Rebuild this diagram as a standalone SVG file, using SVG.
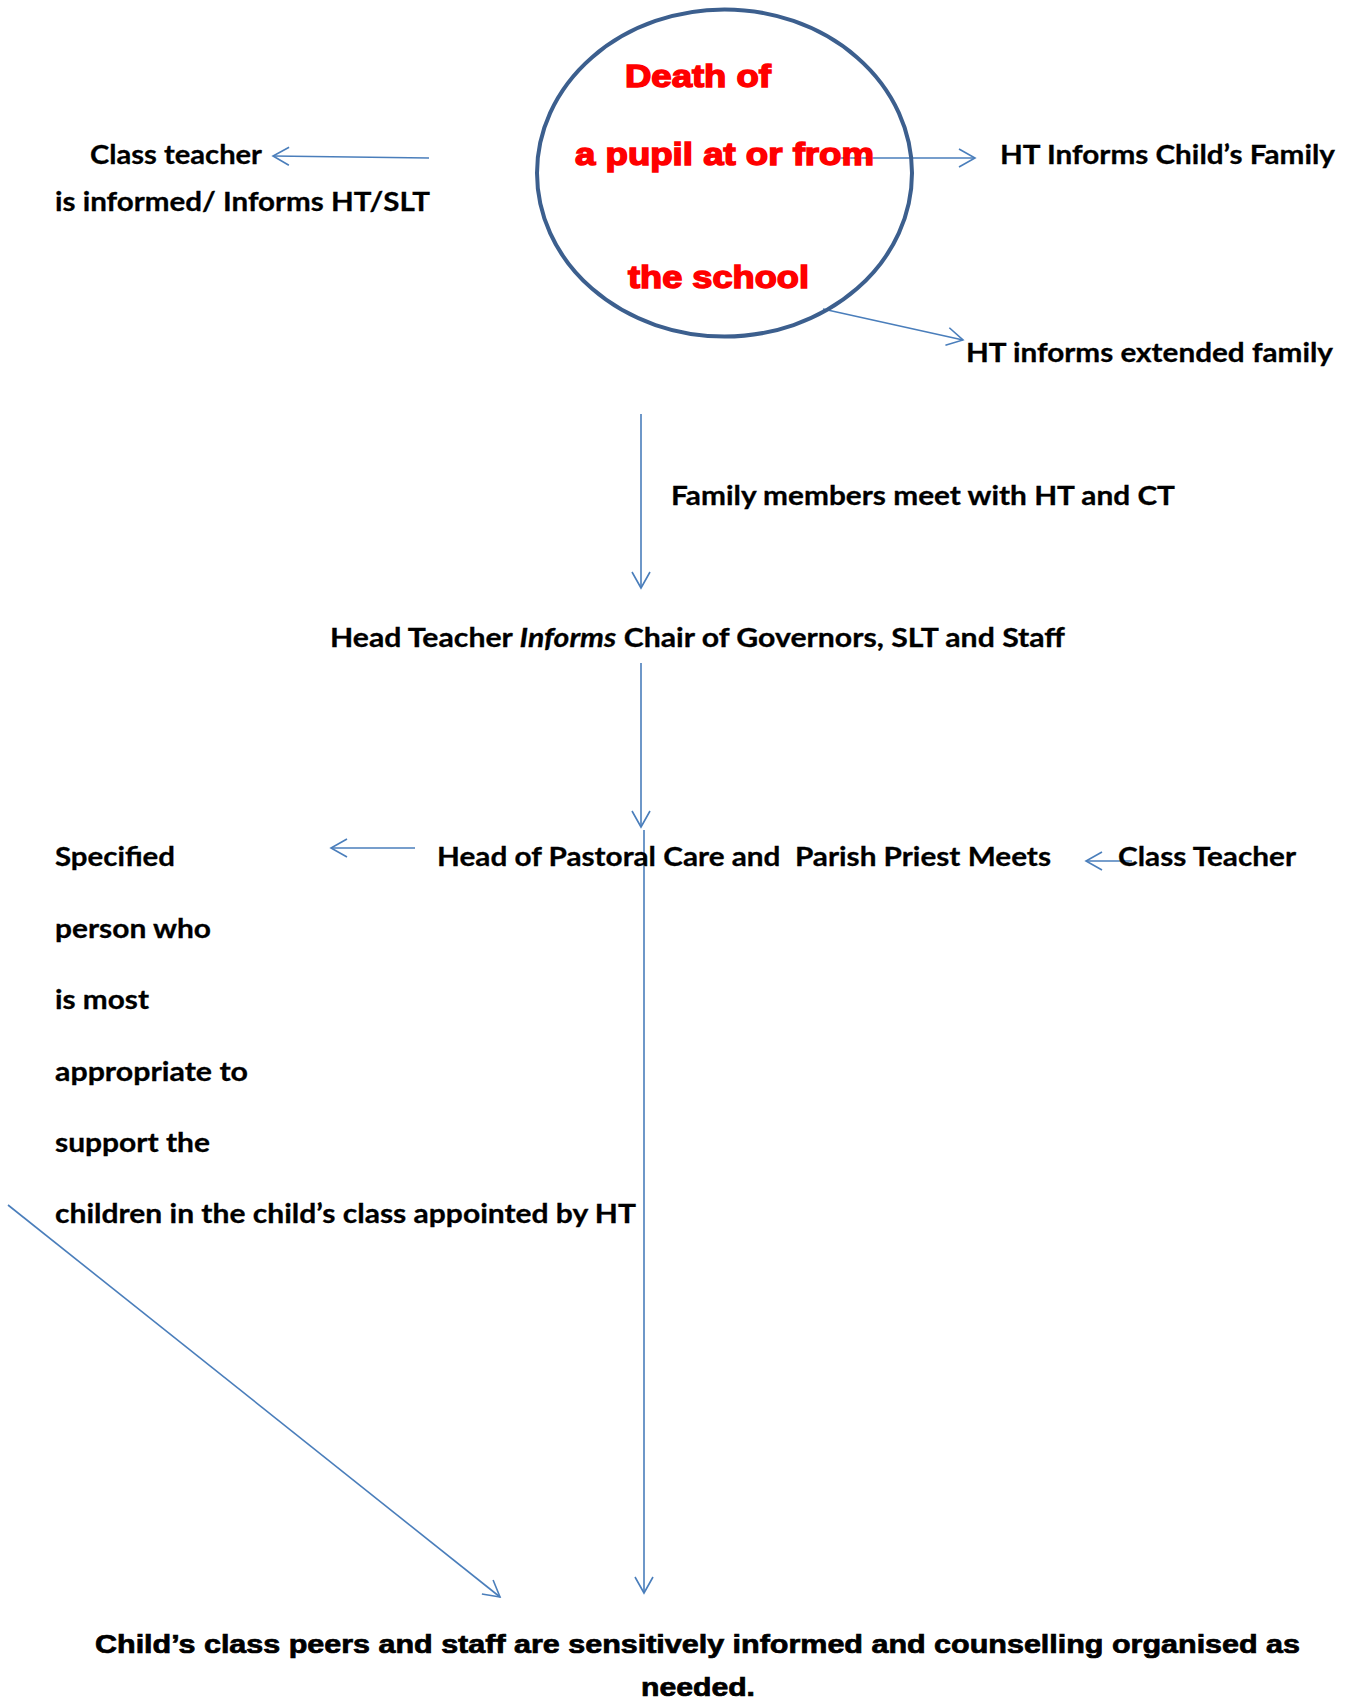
<svg xmlns="http://www.w3.org/2000/svg" width="1349" height="1699" viewBox="0 0 1349 1699">
<defs>
<style>
.t{font-family:Lato,"Open Sans","Liberation Sans",sans-serif;font-weight:bold;font-size:27px;fill:#000;stroke:#000;stroke-width:0.3}
.r{font-family:"Liberation Sans",Arial,sans-serif;font-weight:bold;font-size:32px;fill:#ff0000;stroke:#ff0000;stroke-width:1.5}
.b{font-family:"Liberation Sans",Arial,sans-serif;font-weight:bold;font-size:25px;fill:#000;stroke:#000;stroke-width:0.7}
.c{stroke:#4a7ebb;stroke-width:1.6;fill:none}
</style>
<marker id="ah" markerUnits="userSpaceOnUse" markerWidth="30" markerHeight="30" refX="0" refY="0" viewBox="-20 -15 25 30" orient="auto">
<path d="M-16,-9 L0,0 L-16,9" fill="none" stroke="#4a7ebb" stroke-width="1.6"/>
</marker>
</defs>
<rect width="1349" height="1699" fill="#fff"/>
<g id="connectors">
<line class="c" x1="429" y1="158" x2="273" y2="156" marker-end="url(#ah)"/>
<line class="c" x1="840" y1="158" x2="975" y2="158" marker-end="url(#ah)"/>
<line class="c" x1="823" y1="309" x2="963" y2="340" marker-end="url(#ah)"/>
<line class="c" x1="641" y1="414" x2="641" y2="588" marker-end="url(#ah)"/>
<line class="c" x1="641" y1="663" x2="641" y2="827" marker-end="url(#ah)"/>
<line class="c" x1="644" y1="830" x2="644" y2="1593" marker-end="url(#ah)"/>
<line class="c" x1="415" y1="848" x2="331" y2="848" marker-end="url(#ah)"/>
<line class="c" x1="1132" y1="861" x2="1086" y2="861" marker-end="url(#ah)"/>
<line class="c" x1="8" y1="1205" x2="500" y2="1597" marker-end="url(#ah)"/>
</g>
<g id="death">
<ellipse cx="724.5" cy="173" rx="187.5" ry="163.5" fill="none" stroke="#3c5f8e" stroke-width="4"/>
<text class="r" x="625" y="87" textLength="146" lengthAdjust="spacingAndGlyphs">Death of</text>
<text class="r" x="575" y="165" textLength="299" lengthAdjust="spacingAndGlyphs">a pupil at or from</text>
<text class="r" x="628" y="288" textLength="181" lengthAdjust="spacingAndGlyphs">the school</text>
</g>
<g id="classteacher1">
<text class="t" x="90" y="164" textLength="172" lengthAdjust="spacingAndGlyphs">Class teacher</text>
<text class="t" x="55" y="211" textLength="375" lengthAdjust="spacingAndGlyphs">is informed/ Informs HT/SLT</text>
</g>
<g id="family">
<text class="t" x="1000" y="164" textLength="335" lengthAdjust="spacingAndGlyphs">HT Informs Child’s Family</text>
</g>
<g id="extended">
<text class="t" x="966" y="362" textLength="367" lengthAdjust="spacingAndGlyphs">HT informs extended family</text>
</g>
<g id="meet">
<text class="t" x="671" y="505" textLength="504" lengthAdjust="spacingAndGlyphs">Family members meet with HT and CT</text>
</g>
<g id="headteacher">
<text class="t" x="330" y="647" textLength="735" lengthAdjust="spacingAndGlyphs">Head Teacher <tspan font-style="italic">Informs</tspan> Chair of Governors, SLT and Staff</text>
</g>
<g id="pastoral">
<text class="t" x="437" y="866" textLength="614" lengthAdjust="spacingAndGlyphs" xml:space="preserve">Head of Pastoral Care and  Parish Priest Meets</text>
</g>
<g id="classteacher2">
<text class="t" x="1118" y="866" textLength="178" lengthAdjust="spacingAndGlyphs">Class Teacher</text>
</g>
<g id="specified">
<text class="t" x="55" y="866" textLength="120" lengthAdjust="spacingAndGlyphs">Specified</text>
<text class="t" x="55" y="938" textLength="156" lengthAdjust="spacingAndGlyphs">person who</text>
<text class="t" x="55" y="1009" textLength="94" lengthAdjust="spacingAndGlyphs">is most</text>
<text class="t" x="55" y="1081" textLength="193" lengthAdjust="spacingAndGlyphs">appropriate to</text>
<text class="t" x="55" y="1152" textLength="155" lengthAdjust="spacingAndGlyphs">support the</text>
<text class="t" x="55" y="1223" textLength="581" lengthAdjust="spacingAndGlyphs">children in the child’s class appointed by HT</text>
</g>
<g id="peers">
<text class="b" x="95" y="1653" textLength="1205" lengthAdjust="spacingAndGlyphs">Child’s class peers and staff are sensitively informed and counselling organised as</text>
<text class="b" x="641" y="1696" textLength="114" lengthAdjust="spacingAndGlyphs">needed.</text>
</g>
</svg>
